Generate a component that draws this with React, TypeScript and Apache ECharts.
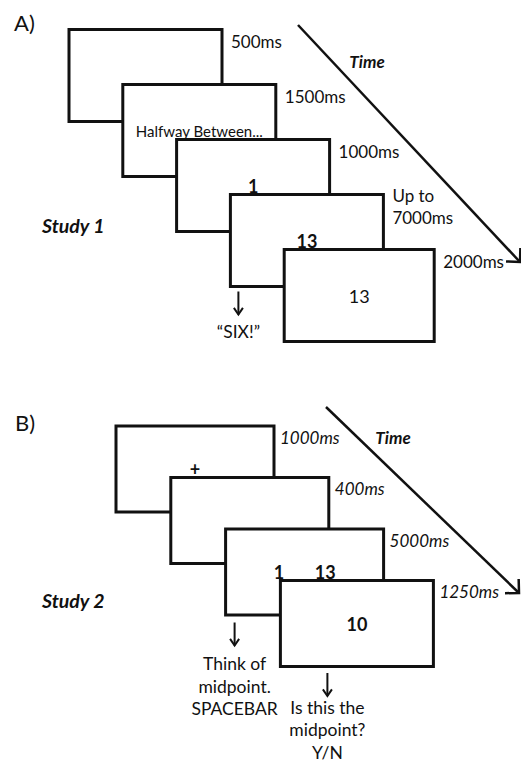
import React, { useEffect, useRef } from "react";
import * as echarts from "echarts";

// ---- Content (data) ----
const PANEL_LABELS = ["A)", "B)"];
const STUDY_LABELS = ["Study 1", "Study 2"];
const TIME_LABEL = "Time";

const A_DURATIONS = ["500ms", "1500ms", "1000ms", "Up to\n7000ms", "2000ms"];
const A_SCREENS = ["", "Halfway Between...", "1", "13", "13"];
const A_SCREEN_BOLD = [false, false, true, true, false];
const A_RESPONSES = ["", "", "", "\u201cSIX!\u201d", ""];

const B_DURATIONS = ["1000ms", "400ms", "5000ms", "1250ms"];
const B_SCREENS = ["+", "", "1       13", "10"];
const B_SCREEN_BOLD = [true, false, true, true];
const B_RESPONSES = ["", "", "Think of\nmidpoint.\nSPACEBAR", "Is this the\nmidpoint?\nY/N"];

const FONT = "Lato, 'Open Sans', sans-serif";
const INK = "#111";

type PanelLayout = {
  x0: number; dx: number; y0: number; dy: number;
  widths: number[]; h: number;
  labelDx: number; labelDy: number; italic: boolean;
  respX: number[]; arrowTop: number[]; arrowLen: number; textTop: number[]; lineGap: number;
  time: { x1: number; y1: number; x2: number; y2: number; tx: number; ty: number };
  panelLabel: { x: number; y: number };
  study: { x: number; y: number };
};

const LAYOUT_A: PanelLayout = {
  x0: 69, dx: 53.8, y0: 29.5, dy: 55,
  widths: [153, 153, 153, 153, 150], h: 92,
  labelDx: 9, labelDy: 11.5, italic: false,
  respX: [0, 0, 0, 8, 0], arrowTop: [0, 0, 0, 5, 0], arrowLen: 23, textTop: [0, 0, 0, 45, 0], lineGap: 23,
  time: { x1: 298, y1: 25, x2: 520, y2: 262, tx: 367, ty: 61 },
  panelLabel: { x: 14, y: 22 },
  study: { x: 42, y: 225 },
};

const LAYOUT_B: PanelLayout = {
  x0: 116, dx: 54.8, y0: 426, dy: 51.5,
  widths: [158, 158, 158, 153], h: 86,
  labelDx: 6, labelDy: 11, italic: true,
  respX: [0, 0, 9, 47], arrowTop: [0, 0, 7.5, 6.5], arrowLen: 23, textTop: [0, 0, 48.5, 40.5], lineGap: 22.5,
  time: { x1: 326, y1: 407, x2: 519, y2: 593, tx: 393, ty: 437 },
  panelLabel: { x: 15, y: 422 },
  study: { x: 42, y: 600 },
};

function arrowHead(x1: number, y1: number, x2: number, y2: number, len: number, half: number) {
  const ang = Math.atan2(y2 - y1, x2 - x1) + Math.PI;
  const a1 = ang - half;
  const a2 = ang + half;
  return [
    [x2 + len * Math.cos(a1), y2 + len * Math.sin(a1)],
    [x2, y2],
    [x2 + len * Math.cos(a2), y2 + len * Math.sin(a2)],
  ];
}

function buildPanel(
  L: PanelLayout,
  durations: string[],
  screens: string[],
  bold: boolean[],
  responses: string[],
  idx: number
) {
  const els: any[] = [];
  durations.forEach((d, i) => {
    const x = L.x0 + i * L.dx;
    const y = L.y0 + i * L.dy;
    const w = L.widths[i];
    els.push({
      type: "rect",
      z: 100 + i * 2,
      shape: { x, y, width: w, height: L.h },
      style: { fill: "#fff", stroke: INK, lineWidth: 3 },
    });
    if (screens[i]) {
      els.push({
        type: "text",
        z: 101 + i * 2,
        x: x + w / 2,
        y: y + L.h / 2,
        style: {
          text: screens[i],
          fontFamily: FONT,
          fontSize: screens[i].length > 10 ? 15 : 18,
          fontWeight: bold[i] ? "bold" : "normal",
          fill: INK,
          align: "center",
          verticalAlign: "middle",
        },
      });
    }
    els.push({
      type: "text",
      z: 200,
      x: x + w + L.labelDx,
      y: y + L.labelDy,
      style: {
        text: d,
        fontFamily: FONT,
        fontSize: 17,
        fontStyle: L.italic ? "italic" : "normal",
        fill: INK,
        align: "left",
        verticalAlign: "middle",
        lineHeight: 22,
      },
    });
    if (responses[i]) {
      const ax = x + L.respX[i];
      const bottom = y + L.h;
      const ay1 = bottom + L.arrowTop[i];
      const ay2 = ay1 + L.arrowLen;
      els.push({
        type: "line",
        z: 200,
        shape: { x1: ax, y1: ay1, x2: ax, y2: ay2 },
        style: { stroke: INK, lineWidth: 2 },
      });
      els.push({
        type: "polyline",
        z: 200,
        shape: { points: arrowHead(ax, ay1, ax, ay2, 8, 0.6) },
        style: { stroke: INK, lineWidth: 2, fill: null },
      });
      responses[i].split("\n").forEach((line, k) => {
        els.push({
          type: "text",
          z: 200,
          x: ax,
          y: bottom + L.textTop[i] + k * L.lineGap,
          style: {
            text: line,
            fontFamily: FONT,
            fontSize: 17.5,
            fill: INK,
            align: "center",
            verticalAlign: "middle",
          },
        });
      });
    }
  });
  const t = L.time;
  els.push({
    type: "line",
    z: 200,
    shape: { x1: t.x1, y1: t.y1, x2: t.x2, y2: t.y2 },
    style: { stroke: INK, lineWidth: 2.5 },
  });
  els.push({
    type: "polyline",
    z: 200,
    shape: { points: arrowHead(t.x1, t.y1, t.x2, t.y2, 14, 0.78) },
    style: { stroke: INK, lineWidth: 2.5, fill: null },
  });
  els.push({
    type: "text",
    z: 200,
    x: t.tx,
    y: t.ty,
    style: {
      text: TIME_LABEL,
      fontFamily: FONT,
      fontSize: 17,
      fontWeight: "bold",
      fontStyle: "italic",
      fill: INK,
      align: "center",
      verticalAlign: "middle",
    },
  });
  els.push({
    type: "text",
    z: 200,
    x: L.panelLabel.x,
    y: L.panelLabel.y,
    style: {
      text: PANEL_LABELS[idx],
      fontFamily: FONT,
      fontSize: 22,
      fill: INK,
      align: "left",
      verticalAlign: "middle",
    },
  });
  els.push({
    type: "text",
    z: 200,
    x: L.study.x,
    y: L.study.y,
    style: {
      text: STUDY_LABELS[idx],
      fontFamily: FONT,
      fontSize: 19.5,
      fontWeight: "bold",
      fontStyle: "italic",
      fill: INK,
      align: "left",
      verticalAlign: "middle",
    },
  });
  return els;
}

export default function App() {
  const ref = useRef<HTMLDivElement>(null);
  useEffect(() => {
    if (!ref.current) return;
    const chart = echarts.init(ref.current, null, { renderer: "svg" });
    const elements = [
      ...buildPanel(LAYOUT_A, A_DURATIONS, A_SCREENS, A_SCREEN_BOLD, A_RESPONSES, 0),
      ...buildPanel(LAYOUT_B, B_DURATIONS, B_SCREENS, B_SCREEN_BOLD, B_RESPONSES, 1),
    ];
    chart.setOption({
      animation: false,
      backgroundColor: "#fff",
      graphic: { elements },
    });
    return () => chart.dispose();
  }, []);
  return (
    <div
      ref={ref}
      style={{ position: "fixed", left: 0, top: 0, width: 521, height: 761, background: "#fff" }}
    />
  );
}
